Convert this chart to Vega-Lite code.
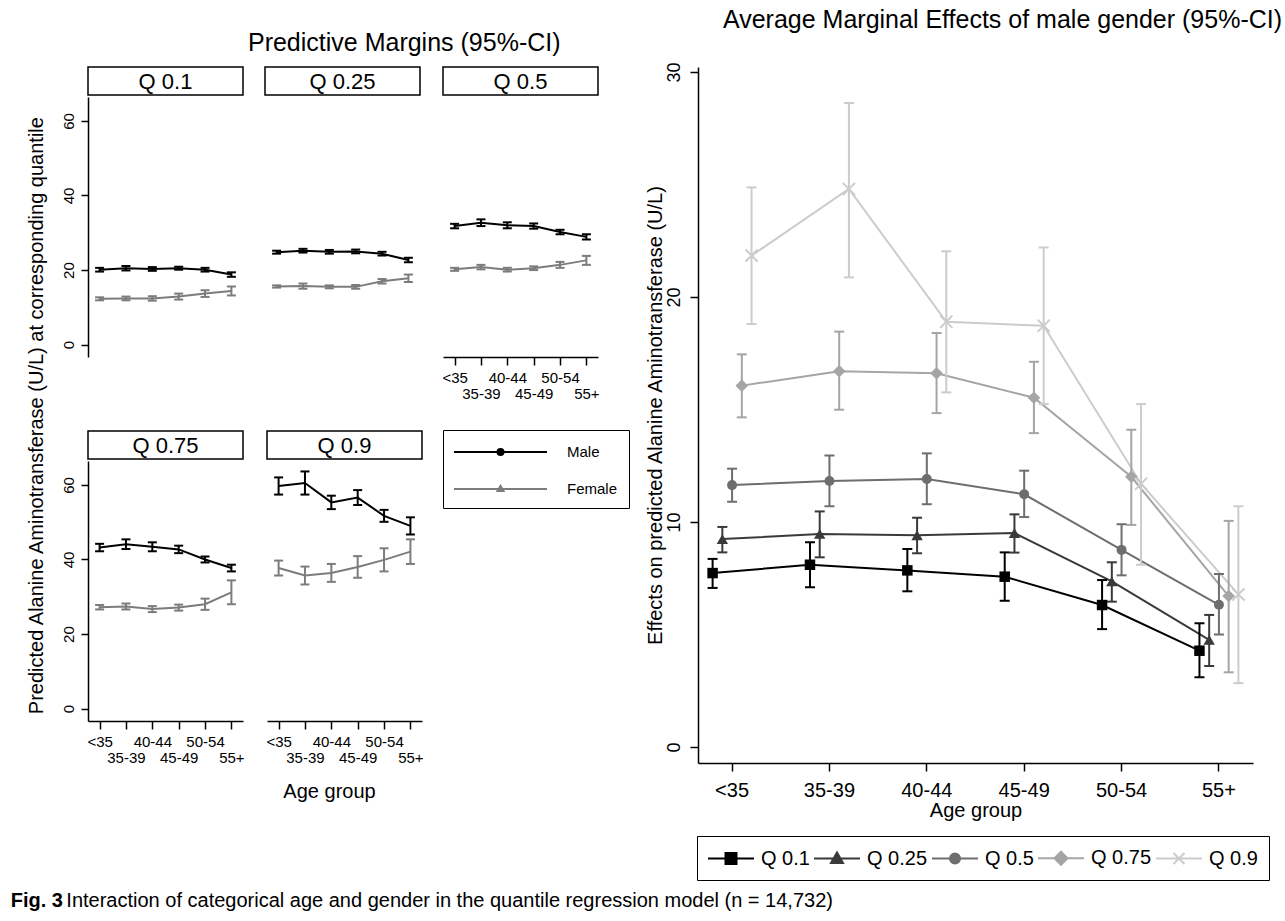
{
  "$schema": "https://vega.github.io/schema/vega-lite/v6.json",
  "background": "white",
  "padding": {"left": 10, "top": 7, "right": 2, "bottom": 5},
  "config": {
    "font": "Liberation Sans",
    "view": {"stroke": null},
    "axis": {"domainColor": "#000", "tickColor": "#000", "labelColor": "#000", "titleColor": "#000", "grid": false, "domainWidth": 1.5, "tickWidth": 1.5, "titleFontWeight": "normal"},
    "title": {"color": "#000", "fontWeight": "normal"},
    "legend": {"labelColor": "#000"}
  },
  "datasets": {
    "pm": [
      {"q": "Q 0.1", "sex": "Male", "age": "<35", "est": 20.1, "lo": 19.6, "hi": 20.6},
      {"q": "Q 0.1", "sex": "Male", "age": "35-39", "est": 20.5, "lo": 19.9, "hi": 21.1},
      {"q": "Q 0.1", "sex": "Male", "age": "40-44", "est": 20.3, "lo": 19.8, "hi": 20.8},
      {"q": "Q 0.1", "sex": "Male", "age": "45-49", "est": 20.5, "lo": 20.1, "hi": 20.9},
      {"q": "Q 0.1", "sex": "Male", "age": "50-54", "est": 20.1, "lo": 19.6, "hi": 20.6},
      {"q": "Q 0.1", "sex": "Male", "age": "55+", "est": 18.8, "lo": 18.2, "hi": 19.4},
      {"q": "Q 0.1", "sex": "Female", "age": "<35", "est": 12.3, "lo": 11.9, "hi": 12.7},
      {"q": "Q 0.1", "sex": "Female", "age": "35-39", "est": 12.4, "lo": 11.9, "hi": 12.9},
      {"q": "Q 0.1", "sex": "Female", "age": "40-44", "est": 12.4, "lo": 11.8, "hi": 13.0},
      {"q": "Q 0.1", "sex": "Female", "age": "45-49", "est": 12.9, "lo": 12.1, "hi": 13.7},
      {"q": "Q 0.1", "sex": "Female", "age": "50-54", "est": 13.7, "lo": 12.8, "hi": 14.6},
      {"q": "Q 0.1", "sex": "Female", "age": "55+", "est": 14.4, "lo": 13.2, "hi": 15.6},
      {"q": "Q 0.25", "sex": "Male", "age": "<35", "est": 24.8, "lo": 24.4, "hi": 25.2},
      {"q": "Q 0.25", "sex": "Male", "age": "35-39", "est": 25.2, "lo": 24.7, "hi": 25.7},
      {"q": "Q 0.25", "sex": "Male", "age": "40-44", "est": 24.9, "lo": 24.4, "hi": 25.4},
      {"q": "Q 0.25", "sex": "Male", "age": "45-49", "est": 25.0, "lo": 24.5, "hi": 25.5},
      {"q": "Q 0.25", "sex": "Male", "age": "50-54", "est": 24.4, "lo": 23.9, "hi": 24.9},
      {"q": "Q 0.25", "sex": "Male", "age": "55+", "est": 22.7, "lo": 22.1, "hi": 23.3},
      {"q": "Q 0.25", "sex": "Female", "age": "<35", "est": 15.6, "lo": 15.3, "hi": 15.9},
      {"q": "Q 0.25", "sex": "Female", "age": "35-39", "est": 15.7, "lo": 15.0, "hi": 16.4},
      {"q": "Q 0.25", "sex": "Female", "age": "40-44", "est": 15.5, "lo": 15.1, "hi": 15.9},
      {"q": "Q 0.25", "sex": "Female", "age": "45-49", "est": 15.5, "lo": 15.0, "hi": 16.0},
      {"q": "Q 0.25", "sex": "Female", "age": "50-54", "est": 17.0, "lo": 16.4, "hi": 17.6},
      {"q": "Q 0.25", "sex": "Female", "age": "55+", "est": 17.8, "lo": 16.8, "hi": 18.8},
      {"q": "Q 0.5", "sex": "Male", "age": "<35", "est": 31.8, "lo": 31.2, "hi": 32.4},
      {"q": "Q 0.5", "sex": "Male", "age": "35-39", "est": 32.7, "lo": 31.8, "hi": 33.6},
      {"q": "Q 0.5", "sex": "Male", "age": "40-44", "est": 32.0, "lo": 31.2, "hi": 32.8},
      {"q": "Q 0.5", "sex": "Male", "age": "45-49", "est": 31.8, "lo": 31.1, "hi": 32.5},
      {"q": "Q 0.5", "sex": "Male", "age": "50-54", "est": 30.2, "lo": 29.6, "hi": 30.8},
      {"q": "Q 0.5", "sex": "Male", "age": "55+", "est": 28.9, "lo": 28.2, "hi": 29.6},
      {"q": "Q 0.5", "sex": "Female", "age": "<35", "est": 20.2, "lo": 19.8, "hi": 20.6},
      {"q": "Q 0.5", "sex": "Female", "age": "35-39", "est": 20.8, "lo": 20.2, "hi": 21.4},
      {"q": "Q 0.5", "sex": "Female", "age": "40-44", "est": 20.1, "lo": 19.6, "hi": 20.6},
      {"q": "Q 0.5", "sex": "Female", "age": "45-49", "est": 20.5, "lo": 20.0, "hi": 21.0},
      {"q": "Q 0.5", "sex": "Female", "age": "50-54", "est": 21.4, "lo": 20.6, "hi": 22.2},
      {"q": "Q 0.5", "sex": "Female", "age": "55+", "est": 22.6, "lo": 21.4, "hi": 23.8},
      {"q": "Q 0.75", "sex": "Male", "age": "<35", "est": 43.2, "lo": 42.2, "hi": 44.2},
      {"q": "Q 0.75", "sex": "Male", "age": "35-39", "est": 44.1, "lo": 42.8, "hi": 45.4},
      {"q": "Q 0.75", "sex": "Male", "age": "40-44", "est": 43.4, "lo": 42.2, "hi": 44.6},
      {"q": "Q 0.75", "sex": "Male", "age": "45-49", "est": 42.7, "lo": 41.7, "hi": 43.7},
      {"q": "Q 0.75", "sex": "Male", "age": "50-54", "est": 40.0, "lo": 39.2, "hi": 40.8},
      {"q": "Q 0.75", "sex": "Male", "age": "55+", "est": 37.7, "lo": 36.8, "hi": 38.6},
      {"q": "Q 0.75", "sex": "Female", "age": "<35", "est": 27.2, "lo": 26.6, "hi": 27.8},
      {"q": "Q 0.75", "sex": "Female", "age": "35-39", "est": 27.4, "lo": 26.6, "hi": 28.2},
      {"q": "Q 0.75", "sex": "Female", "age": "40-44", "est": 26.7, "lo": 25.9, "hi": 27.5},
      {"q": "Q 0.75", "sex": "Female", "age": "45-49", "est": 27.1, "lo": 26.3, "hi": 27.9},
      {"q": "Q 0.75", "sex": "Female", "age": "50-54", "est": 28.0, "lo": 26.5, "hi": 29.5},
      {"q": "Q 0.75", "sex": "Female", "age": "55+", "est": 31.2, "lo": 28.0, "hi": 34.4},
      {"q": "Q 0.9", "sex": "Male", "age": "<35", "est": 59.7, "lo": 57.4, "hi": 62.0},
      {"q": "Q 0.9", "sex": "Male", "age": "35-39", "est": 60.5, "lo": 57.4, "hi": 63.6},
      {"q": "Q 0.9", "sex": "Male", "age": "40-44", "est": 55.3, "lo": 53.5, "hi": 57.1},
      {"q": "Q 0.9", "sex": "Male", "age": "45-49", "est": 56.6, "lo": 54.6, "hi": 58.6},
      {"q": "Q 0.9", "sex": "Male", "age": "50-54", "est": 51.7, "lo": 50.1, "hi": 53.3},
      {"q": "Q 0.9", "sex": "Male", "age": "55+", "est": 49.0, "lo": 46.7, "hi": 51.3},
      {"q": "Q 0.9", "sex": "Female", "age": "<35", "est": 37.7, "lo": 35.7, "hi": 39.7},
      {"q": "Q 0.9", "sex": "Female", "age": "35-39", "est": 35.7, "lo": 33.3, "hi": 38.1},
      {"q": "Q 0.9", "sex": "Female", "age": "40-44", "est": 36.4, "lo": 34.0, "hi": 38.8},
      {"q": "Q 0.9", "sex": "Female", "age": "45-49", "est": 38.0, "lo": 35.1, "hi": 40.9},
      {"q": "Q 0.9", "sex": "Female", "age": "50-54", "est": 39.9, "lo": 36.8, "hi": 43.0},
      {"q": "Q 0.9", "sex": "Female", "age": "55+", "est": 42.1, "lo": 38.8, "hi": 45.4}
    ],
    "ame": [
      {"q": "Q 0.1", "age": "<35", "est": 7.73, "lo": 7.07, "hi": 8.36},
      {"q": "Q 0.1", "age": "35-39", "est": 8.10, "lo": 7.10, "hi": 9.10},
      {"q": "Q 0.1", "age": "40-44", "est": 7.85, "lo": 6.92, "hi": 8.80},
      {"q": "Q 0.1", "age": "45-49", "est": 7.57, "lo": 6.50, "hi": 8.65},
      {"q": "Q 0.1", "age": "50-54", "est": 6.31, "lo": 5.24, "hi": 7.42},
      {"q": "Q 0.1", "age": "55+", "est": 4.28, "lo": 3.10, "hi": 5.50},
      {"q": "Q 0.25", "age": "<35", "est": 9.24, "lo": 8.65, "hi": 9.78},
      {"q": "Q 0.25", "age": "35-39", "est": 9.47, "lo": 8.43, "hi": 10.47},
      {"q": "Q 0.25", "age": "40-44", "est": 9.41, "lo": 8.61, "hi": 10.19},
      {"q": "Q 0.25", "age": "45-49", "est": 9.51, "lo": 8.64, "hi": 10.34},
      {"q": "Q 0.25", "age": "50-54", "est": 7.36, "lo": 6.46, "hi": 8.21},
      {"q": "Q 0.25", "age": "55+", "est": 4.76, "lo": 3.60, "hi": 5.87},
      {"q": "Q 0.5", "age": "<35", "est": 11.64, "lo": 10.90, "hi": 12.37},
      {"q": "Q 0.5", "age": "35-39", "est": 11.82, "lo": 10.70, "hi": 12.95},
      {"q": "Q 0.5", "age": "40-44", "est": 11.91, "lo": 10.79, "hi": 13.05},
      {"q": "Q 0.5", "age": "45-49", "est": 11.23, "lo": 10.22, "hi": 12.28},
      {"q": "Q 0.5", "age": "50-54", "est": 8.76, "lo": 7.63, "hi": 9.90},
      {"q": "Q 0.5", "age": "55+", "est": 6.32, "lo": 5.00, "hi": 7.69},
      {"q": "Q 0.75", "age": "<35", "est": 16.06, "lo": 14.65, "hi": 17.45},
      {"q": "Q 0.75", "age": "35-39", "est": 16.70, "lo": 14.99, "hi": 18.46},
      {"q": "Q 0.75", "age": "40-44", "est": 16.61, "lo": 14.84, "hi": 18.40},
      {"q": "Q 0.75", "age": "45-49", "est": 15.52, "lo": 13.95, "hi": 17.12},
      {"q": "Q 0.75", "age": "50-54", "est": 12.01, "lo": 9.87, "hi": 14.10},
      {"q": "Q 0.75", "age": "55+", "est": 6.71, "lo": 3.32, "hi": 10.05},
      {"q": "Q 0.9", "age": "<35", "est": 21.84, "lo": 18.80, "hi": 24.87},
      {"q": "Q 0.9", "age": "35-39", "est": 24.80, "lo": 20.87, "hi": 28.62},
      {"q": "Q 0.9", "age": "40-44", "est": 18.90, "lo": 15.76, "hi": 22.03},
      {"q": "Q 0.9", "age": "45-49", "est": 18.72, "lo": 15.24, "hi": 22.20},
      {"q": "Q 0.9", "age": "50-54", "est": 11.70, "lo": 8.10, "hi": 15.24},
      {"q": "Q 0.9", "age": "55+", "est": 6.78, "lo": 2.84, "hi": 10.70}
    ]
  },
  "spacing": 9,
  "resolve": {"scale": {"color": "independent", "shape": "independent", "stroke": "independent"}},
  "vconcat": [
    {
      "spacing": 15,
      "resolve": {"scale": {"color": "independent", "shape": "independent", "stroke": "independent"}},
      "hconcat": [
        {
          "title": {"text": "Predictive Margins (95%-CI)", "fontSize": 25, "offset": 10, "anchor": "middle", "frame": "bounds", "dx": 76},
          "resolve": {"scale": {"color": "independent", "shape": "independent", "stroke": "independent"}},
          "vconcat": [
            {
              "title": {"text": "Predicted Alanine Aminotransferase (U/L) at corresponding quantile", "orient": "left", "fontSize": 20, "offset": 14, "anchor": "middle", "frame": "bounds", "dx": 18},
              "spacing": 28,
              "resolve": {"scale": {"color": "independent", "shape": "independent", "stroke": "independent"}},
              "vconcat": [
                {
                  "spacing": 20,
                  "resolve": {"scale": {"color": "independent", "shape": "independent", "stroke": "independent"}},
                  "hconcat": [
                    {
                      "spacing": 2, "bounds": "flush",
                      "resolve": {"scale": {"color": "independent", "shape": "independent", "stroke": "independent"}},
                      "vconcat": [
                        {"width": 155, "height": 28, "data": {"values": [{"label": "Q 0.1"}]}, "mark": {"type": "text", "fontSize": 22, "color": "#000", "baseline": "middle", "dy": 1}, "encoding": {"text": {"field": "label"}}, "view": {"stroke": "#000", "strokeWidth": 1.5, "fill": "#fff"}},
                        {
                          "width": 155, "height": 260,
                          "data": {"name": "pm"},
                          "transform": [{"filter": "datum.q == 'Q 0.1'"}],
                          "encoding": {
                            "x": {"field": "age", "type": "ordinal", "scale": {"type": "point", "domain": ["<35","35-39","40-44","45-49","50-54","55+"], "padding": 0.44}, "axis": null},
                            "color": {"field": "sex", "type": "nominal", "scale": {"domain": ["Male","Female"], "range": ["#000000","#7c7c7c"]}, "legend": null}
                          },
                          "layer": [
                            {"mark": {"type": "line", "strokeWidth": 2}, "encoding": {"y": {"field": "est", "type": "quantitative", "scale": {"domain": [-3.3, 66.4], "nice": false, "zero": false}, "axis": {"title": null, "values": [0,20,40,60], "labelAngle": -90, "labelAlign": "center", "labelBaseline": "alphabetic", "labelFontSize": 15, "tickSize": 7, "labelPadding": 8}}, "order": {"value": null}}},
                            {"mark": {"type": "rule", "strokeWidth": 2}, "encoding": {"y": {"field": "lo", "type": "quantitative", "scale": {"domain": [-3.3, 66.4], "nice": false, "zero": false}, "axis": {"title": null, "values": [0,20,40,60], "labelAngle": -90, "labelAlign": "center", "labelBaseline": "alphabetic", "labelFontSize": 15, "tickSize": 7, "labelPadding": 8}}, "y2": {"field": "hi"}}},
                            {"mark": {"type": "tick", "size": 9, "thickness": 2, "opacity": 1}, "encoding": {"y": {"field": "lo", "type": "quantitative", "scale": {"domain": [-3.3, 66.4], "nice": false, "zero": false}, "axis": {"title": null, "values": [0,20,40,60], "labelAngle": -90, "labelAlign": "center", "labelBaseline": "alphabetic", "labelFontSize": 15, "tickSize": 7, "labelPadding": 8}}}},
                            {"mark": {"type": "tick", "size": 9, "thickness": 2, "opacity": 1}, "encoding": {"y": {"field": "hi", "type": "quantitative", "scale": {"domain": [-3.3, 66.4], "nice": false, "zero": false}, "axis": {"title": null, "values": [0,20,40,60], "labelAngle": -90, "labelAlign": "center", "labelBaseline": "alphabetic", "labelFontSize": 15, "tickSize": 7, "labelPadding": 8}}}}
                          ]
                        }
                      ]
                    },
                    {
                      "spacing": 2, "bounds": "flush",
                      "resolve": {"scale": {"color": "independent", "shape": "independent", "stroke": "independent"}},
                      "vconcat": [
                        {"width": 155, "height": 28, "data": {"values": [{"label": "Q 0.25"}]}, "mark": {"type": "text", "fontSize": 22, "color": "#000", "baseline": "middle", "dy": 1}, "encoding": {"text": {"field": "label"}}, "view": {"stroke": "#000", "strokeWidth": 1.5, "fill": "#fff"}},
                        {
                          "width": 155, "height": 260,
                          "data": {"name": "pm"},
                          "transform": [{"filter": "datum.q == 'Q 0.25'"}],
                          "encoding": {
                            "x": {"field": "age", "type": "ordinal", "scale": {"type": "point", "domain": ["<35","35-39","40-44","45-49","50-54","55+"], "padding": 0.44}, "axis": null},
                            "color": {"field": "sex", "type": "nominal", "scale": {"domain": ["Male","Female"], "range": ["#000000","#7c7c7c"]}, "legend": null}
                          },
                          "layer": [
                            {"mark": {"type": "line", "strokeWidth": 2}, "encoding": {"y": {"field": "est", "type": "quantitative", "scale": {"domain": [-3.3, 66.4], "nice": false, "zero": false}, "axis": null}, "order": {"value": null}}},
                            {"mark": {"type": "rule", "strokeWidth": 2}, "encoding": {"y": {"field": "lo", "type": "quantitative", "scale": {"domain": [-3.3, 66.4], "nice": false, "zero": false}, "axis": null}, "y2": {"field": "hi"}}},
                            {"mark": {"type": "tick", "size": 9, "thickness": 2, "opacity": 1}, "encoding": {"y": {"field": "lo", "type": "quantitative", "scale": {"domain": [-3.3, 66.4], "nice": false, "zero": false}, "axis": null}}},
                            {"mark": {"type": "tick", "size": 9, "thickness": 2, "opacity": 1}, "encoding": {"y": {"field": "hi", "type": "quantitative", "scale": {"domain": [-3.3, 66.4], "nice": false, "zero": false}, "axis": null}}}
                          ]
                        }
                      ]
                    },
                    {
                      "spacing": 2, "bounds": "flush",
                      "resolve": {"scale": {"color": "independent", "shape": "independent", "stroke": "independent"}},
                      "vconcat": [
                        {"width": 155, "height": 28, "data": {"values": [{"label": "Q 0.5"}]}, "mark": {"type": "text", "fontSize": 22, "color": "#000", "baseline": "middle", "dy": 1}, "encoding": {"text": {"field": "label"}}, "view": {"stroke": "#000", "strokeWidth": 1.5, "fill": "#fff"}},
                        {
                          "width": 155, "height": 260,
                          "data": {"name": "pm"},
                          "transform": [{"filter": "datum.q == 'Q 0.5'"}],
                          "encoding": {
                            "x": {"field": "age", "type": "ordinal", "scale": {"type": "point", "domain": ["<35","35-39","40-44","45-49","50-54","55+"], "padding": 0.44}, "axis": {"title": null, "labelAngle": 0, "labelFontSize": 15, "tickSize": 8, "labelPadding": 5, "labelLineHeight": 16, "labelOverlap": false, "labelExpr": "indexof(['35-39','45-49','55+'], datum.value) >= 0 ? ['', datum.value] : datum.value"}},
                            "color": {"field": "sex", "type": "nominal", "scale": {"domain": ["Male","Female"], "range": ["#000000","#7c7c7c"]}, "legend": null}
                          },
                          "layer": [
                            {"mark": {"type": "line", "strokeWidth": 2}, "encoding": {"y": {"field": "est", "type": "quantitative", "scale": {"domain": [-3.3, 66.4], "nice": false, "zero": false}, "axis": null}, "order": {"value": null}}},
                            {"mark": {"type": "rule", "strokeWidth": 2}, "encoding": {"y": {"field": "lo", "type": "quantitative", "scale": {"domain": [-3.3, 66.4], "nice": false, "zero": false}, "axis": null}, "y2": {"field": "hi"}}},
                            {"mark": {"type": "tick", "size": 9, "thickness": 2, "opacity": 1}, "encoding": {"y": {"field": "lo", "type": "quantitative", "scale": {"domain": [-3.3, 66.4], "nice": false, "zero": false}, "axis": null}}},
                            {"mark": {"type": "tick", "size": 9, "thickness": 2, "opacity": 1}, "encoding": {"y": {"field": "hi", "type": "quantitative", "scale": {"domain": [-3.3, 66.4], "nice": false, "zero": false}, "axis": null}}}
                          ]
                        }
                      ]
                    }
                  ]
                },
                {
                  "spacing": 20,
                  "resolve": {"scale": {"color": "independent", "shape": "independent", "stroke": "independent"}},
                  "hconcat": [
                    {
                      "spacing": 2, "bounds": "flush",
                      "resolve": {"scale": {"color": "independent", "shape": "independent", "stroke": "independent"}},
                      "vconcat": [
                        {"width": 155, "height": 28, "data": {"values": [{"label": "Q 0.75"}]}, "mark": {"type": "text", "fontSize": 22, "color": "#000", "baseline": "middle", "dy": 1}, "encoding": {"text": {"field": "label"}}, "view": {"stroke": "#000", "strokeWidth": 1.5, "fill": "#fff"}},
                        {
                          "width": 155, "height": 260,
                          "data": {"name": "pm"},
                          "transform": [{"filter": "datum.q == 'Q 0.75'"}],
                          "encoding": {
                            "x": {"field": "age", "type": "ordinal", "scale": {"type": "point", "domain": ["<35","35-39","40-44","45-49","50-54","55+"], "padding": 0.44}, "axis": {"title": null, "labelAngle": 0, "labelFontSize": 15, "tickSize": 8, "labelPadding": 5, "labelLineHeight": 16, "labelOverlap": false, "labelExpr": "indexof(['35-39','45-49','55+'], datum.value) >= 0 ? ['', datum.value] : datum.value"}},
                            "color": {"field": "sex", "type": "nominal", "scale": {"domain": ["Male","Female"], "range": ["#000000","#7c7c7c"]}, "legend": null}
                          },
                          "layer": [
                            {"mark": {"type": "line", "strokeWidth": 2}, "encoding": {"y": {"field": "est", "type": "quantitative", "scale": {"domain": [-3.3, 66.4], "nice": false, "zero": false}, "axis": {"title": null, "values": [0,20,40,60], "labelAngle": -90, "labelAlign": "center", "labelBaseline": "alphabetic", "labelFontSize": 15, "tickSize": 7, "labelPadding": 8}}, "order": {"value": null}}},
                            {"mark": {"type": "rule", "strokeWidth": 2}, "encoding": {"y": {"field": "lo", "type": "quantitative", "scale": {"domain": [-3.3, 66.4], "nice": false, "zero": false}, "axis": {"title": null, "values": [0,20,40,60], "labelAngle": -90, "labelAlign": "center", "labelBaseline": "alphabetic", "labelFontSize": 15, "tickSize": 7, "labelPadding": 8}}, "y2": {"field": "hi"}}},
                            {"mark": {"type": "tick", "size": 9, "thickness": 2, "opacity": 1}, "encoding": {"y": {"field": "lo", "type": "quantitative", "scale": {"domain": [-3.3, 66.4], "nice": false, "zero": false}, "axis": {"title": null, "values": [0,20,40,60], "labelAngle": -90, "labelAlign": "center", "labelBaseline": "alphabetic", "labelFontSize": 15, "tickSize": 7, "labelPadding": 8}}}},
                            {"mark": {"type": "tick", "size": 9, "thickness": 2, "opacity": 1}, "encoding": {"y": {"field": "hi", "type": "quantitative", "scale": {"domain": [-3.3, 66.4], "nice": false, "zero": false}, "axis": {"title": null, "values": [0,20,40,60], "labelAngle": -90, "labelAlign": "center", "labelBaseline": "alphabetic", "labelFontSize": 15, "tickSize": 7, "labelPadding": 8}}}}
                          ]
                        }
                      ]
                    },
                    {
                      "spacing": 2, "bounds": "flush",
                      "resolve": {"scale": {"color": "independent", "shape": "independent", "stroke": "independent"}},
                      "vconcat": [
                        {"width": 155, "height": 28, "data": {"values": [{"label": "Q 0.9"}]}, "mark": {"type": "text", "fontSize": 22, "color": "#000", "baseline": "middle", "dy": 1}, "encoding": {"text": {"field": "label"}}, "view": {"stroke": "#000", "strokeWidth": 1.5, "fill": "#fff"}},
                        {
                          "width": 155, "height": 260,
                          "data": {"name": "pm"},
                          "transform": [{"filter": "datum.q == 'Q 0.9'"}],
                          "encoding": {
                            "x": {"field": "age", "type": "ordinal", "scale": {"type": "point", "domain": ["<35","35-39","40-44","45-49","50-54","55+"], "padding": 0.44}, "axis": {"title": "Age group", "titleFontSize": 20, "titlePadding": 16, "titleX": 62, "labelAngle": 0, "labelFontSize": 15, "tickSize": 8, "labelPadding": 5, "labelLineHeight": 16, "labelOverlap": false, "labelExpr": "indexof(['35-39','45-49','55+'], datum.value) >= 0 ? ['', datum.value] : datum.value"}},
                            "color": {"field": "sex", "type": "nominal", "scale": {"domain": ["Male","Female"], "range": ["#000000","#7c7c7c"]}, "legend": null}
                          },
                          "layer": [
                            {
                              "transform": [{"filter": "false"}],
                              "mark": {"type": "point", "filled": true, "opacity": 1, "strokeWidth": 2},
                              "encoding": {
                                "color": {"field": "sex", "type": "nominal", "scale": {"domain": ["Male","Female"], "range": ["#000000","#7c7c7c"]}, "legend": {"orient": "none", "legendX": 176, "legendY": -31, "title": null, "direction": "vertical", "strokeColor": "#000", "fillColor": "#fff", "padding": 11, "symbolSize": 400, "symbolOffset": 35.5, "symbolStrokeWidth": 2, "symbolOpacity": 1, "labelOffset": 55.5, "labelFontSize": 15, "rowPadding": 18}},
                                "shape": {"field": "sex", "type": "nominal", "scale": {"domain": ["Male","Female"], "range": ["M-4.65,0H4.65M-0.3,0A0.3,0.3 0 1,0 0.3,0A0.3,0.3 0 1,0 -0.3,0Z", "M-4.65,0H4.65M0,-0.3L0.3,0.2H-0.3Z"]}, "legend": {"orient": "none", "legendX": 176, "legendY": -31, "title": null, "direction": "vertical", "strokeColor": "#000", "fillColor": "#fff", "padding": 11, "symbolSize": 400, "symbolOffset": 35.5, "symbolStrokeWidth": 2, "symbolOpacity": 1, "labelOffset": 55.5, "labelFontSize": 15, "rowPadding": 18}},
                                "stroke": {"field": "sex", "type": "nominal", "scale": {"domain": ["Male","Female"], "range": ["#000000","#7c7c7c"]}, "legend": {"orient": "none", "legendX": 176, "legendY": -31, "title": null, "direction": "vertical", "strokeColor": "#000", "fillColor": "#fff", "padding": 11, "symbolSize": 400, "symbolOffset": 35.5, "symbolStrokeWidth": 2, "symbolOpacity": 1, "labelOffset": 55.5, "labelFontSize": 15, "rowPadding": 18}}
                              }
                            },
                            {"mark": {"type": "line", "strokeWidth": 2}, "encoding": {"y": {"field": "est", "type": "quantitative", "scale": {"domain": [-3.3, 66.4], "nice": false, "zero": false}, "axis": null}, "order": {"value": null}}},
                            {"mark": {"type": "rule", "strokeWidth": 2}, "encoding": {"y": {"field": "lo", "type": "quantitative", "scale": {"domain": [-3.3, 66.4], "nice": false, "zero": false}, "axis": null}, "y2": {"field": "hi"}}},
                            {"mark": {"type": "tick", "size": 9, "thickness": 2, "opacity": 1}, "encoding": {"y": {"field": "lo", "type": "quantitative", "scale": {"domain": [-3.3, 66.4], "nice": false, "zero": false}, "axis": null}}},
                            {"mark": {"type": "tick", "size": 9, "thickness": 2, "opacity": 1}, "encoding": {"y": {"field": "hi", "type": "quantitative", "scale": {"domain": [-3.3, 66.4], "nice": false, "zero": false}, "axis": null}}}
                          ]
                        }
                      ]
                    }
                  ]
                }
              ]
            }
          ]
        },
        {
          "title": {"text": "Average Marginal Effects of male gender (95%-CI)", "fontSize": 25, "offset": 29, "anchor": "middle", "frame": "group", "dx": 27},
          "width": 555, "height": 696,
          "data": {"name": "ame"},
          "encoding": {
            "x": {"field": "age", "type": "nominal", "scale": {"type": "band", "domain": ["<35","35-39","40-44","45-49","50-54","55+"], "paddingInner": 0.5, "paddingOuter": 0.1}, "axis": {"title": "Age group", "titleFontSize": 20, "titlePadding": 0, "labelAngle": 0, "labelFontSize": 20, "tickSize": 8, "labelPadding": 9}},
            "xOffset": {"field": "q", "type": "nominal", "scale": {"domain": ["Q 0.1","Q 0.25","Q 0.5","Q 0.75","Q 0.9"], "paddingInner": 0, "paddingOuter": 0}},
            "color": {"field": "q", "type": "nominal", "scale": {"domain": ["Q 0.1","Q 0.25","Q 0.5","Q 0.75","Q 0.9"], "range": ["#000000","#3a3a3a","#6e6e6e","#a5a5a5","#cccccc"]}, "legend": null}
          },
          "layer": [
            {
              "transform": [{"filter": "false"}],
              "mark": {"type": "point", "filled": true, "opacity": 1, "strokeWidth": 2},
              "encoding": {
                "color": {"field": "q", "type": "nominal", "scale": {"domain": ["Q 0.1","Q 0.25","Q 0.5","Q 0.75","Q 0.9"], "range": ["#000000","#3a3a3a","#6e6e6e","#a5a5a5","#cccccc"]}, "legend": {"orient": "none", "legendX": -1, "legendY": 769, "direction": "horizontal", "title": null, "strokeColor": "#000", "fillColor": "#fff", "padding": 11, "symbolSize": 400, "symbolOffset": 12, "symbolStrokeWidth": 2, "symbolOpacity": 1, "labelFontSize": 20, "labelOffset": 19, "columnPadding": 0}},
                "shape": {"field": "q", "type": "nominal", "scale": {"domain": ["Q 0.1","Q 0.25","Q 0.5","Q 0.75","Q 0.9"], "range": ["M-2.3,0H2.3M-0.55,-0.55H0.55V0.55H-0.55Z", "M-2.3,0H2.3M0,-0.6L0.6,0.45H-0.6Z", "M-2.3,0H2.3M-0.5,0A0.5,0.5 0 1,0 0.5,0A0.5,0.5 0 1,0 -0.5,0Z", "M-2.3,0H2.3M0,-0.65L0.65,0L0,0.65L-0.65,0Z", "M-2.3,0H2.3M-0.55,-0.55L0.55,0.55M-0.55,0.55L0.55,-0.55"]}, "legend": {"orient": "none", "legendX": -1, "legendY": 769, "direction": "horizontal", "title": null, "strokeColor": "#000", "fillColor": "#fff", "padding": 11, "symbolSize": 400, "symbolOffset": 12, "symbolStrokeWidth": 2, "symbolOpacity": 1, "labelFontSize": 20, "labelOffset": 19, "columnPadding": 0}},
                "stroke": {"field": "q", "type": "nominal", "scale": {"domain": ["Q 0.1","Q 0.25","Q 0.5","Q 0.75","Q 0.9"], "range": ["#000000","#3a3a3a","#6e6e6e","#a5a5a5","#cccccc"]}, "legend": {"orient": "none", "legendX": -1, "legendY": 769, "direction": "horizontal", "title": null, "strokeColor": "#000", "fillColor": "#fff", "padding": 11, "symbolSize": 400, "symbolOffset": 12, "symbolStrokeWidth": 2, "symbolOpacity": 1, "labelFontSize": 20, "labelOffset": 19, "columnPadding": 0}}
              }
            },
            {"mark": {"type": "line", "strokeWidth": 2}, "encoding": {"y": {"field": "est", "type": "quantitative", "scale": {"domain": [-0.71, 30.22], "nice": false, "zero": false}, "axis": {"title": "Effects on predicted Alanine Aminotransferase (U/L)", "titleFontSize": 20, "titlePadding": 0, "values": [0,10,20,30], "labelAngle": -90, "labelAlign": "center", "labelBaseline": "bottom", "labelFontSize": 18, "tickSize": 8, "labelPadding": 7}}, "order": {"value": null}}},
            {"mark": {"type": "rule", "strokeWidth": 2}, "encoding": {"y": {"field": "lo", "type": "quantitative", "scale": {"domain": [-0.71, 30.22], "nice": false, "zero": false}, "axis": {"title": "Effects on predicted Alanine Aminotransferase (U/L)", "titleFontSize": 20, "titlePadding": 0, "values": [0,10,20,30], "labelAngle": -90, "labelAlign": "center", "labelBaseline": "bottom", "labelFontSize": 18, "tickSize": 8, "labelPadding": 7}}, "y2": {"field": "hi"}}},
            {"mark": {"type": "tick", "size": 10, "thickness": 2, "opacity": 1}, "encoding": {"y": {"field": "lo", "type": "quantitative", "scale": {"domain": [-0.71, 30.22], "nice": false, "zero": false}, "axis": {"title": "Effects on predicted Alanine Aminotransferase (U/L)", "titleFontSize": 20, "titlePadding": 0, "values": [0,10,20,30], "labelAngle": -90, "labelAlign": "center", "labelBaseline": "bottom", "labelFontSize": 18, "tickSize": 8, "labelPadding": 7}}}},
            {"mark": {"type": "tick", "size": 10, "thickness": 2, "opacity": 1}, "encoding": {"y": {"field": "hi", "type": "quantitative", "scale": {"domain": [-0.71, 30.22], "nice": false, "zero": false}, "axis": {"title": "Effects on predicted Alanine Aminotransferase (U/L)", "titleFontSize": 20, "titlePadding": 0, "values": [0,10,20,30], "labelAngle": -90, "labelAlign": "center", "labelBaseline": "bottom", "labelFontSize": 18, "tickSize": 8, "labelPadding": 7}}}},
            {"transform": [{"filter": "datum.q == 'Q 0.1'"}], "mark": {"type": "point", "shape": "square", "filled": true, "size": 110, "opacity": 1}, "encoding": {"y": {"field": "est", "type": "quantitative", "scale": {"domain": [-0.71, 30.22], "nice": false, "zero": false}}}},
            {"transform": [{"filter": "datum.q == 'Q 0.25'"}], "mark": {"type": "point", "shape": "triangle-up", "filled": true, "size": 130, "opacity": 1}, "encoding": {"y": {"field": "est", "type": "quantitative", "scale": {"domain": [-0.71, 30.22], "nice": false, "zero": false}}}},
            {"transform": [{"filter": "datum.q == 'Q 0.5'"}], "mark": {"type": "point", "shape": "circle", "filled": true, "size": 100, "opacity": 1}, "encoding": {"y": {"field": "est", "type": "quantitative", "scale": {"domain": [-0.71, 30.22], "nice": false, "zero": false}}}},
            {"transform": [{"filter": "datum.q == 'Q 0.75'"}], "mark": {"type": "point", "shape": "diamond", "filled": true, "size": 160, "opacity": 1}, "encoding": {"y": {"field": "est", "type": "quantitative", "scale": {"domain": [-0.71, 30.22], "nice": false, "zero": false}}}},
            {"transform": [{"filter": "datum.q == 'Q 0.9'"}], "mark": {"type": "point", "shape": "M-1,-1L1,1M-1,1L1,-1", "filled": false, "size": 150, "strokeWidth": 2, "opacity": 1}, "encoding": {"y": {"field": "est", "type": "quantitative", "scale": {"domain": [-0.71, 30.22], "nice": false, "zero": false}}}}
          ]
        }
      ]
    },
    {
      "width": 1, "height": 1,
      "data": {"values": [{}]},
      "mark": {"type": "point", "opacity": 0},
      "encoding": {},
      "title": {
        "text": "Fig. 3",
        "subtitle": "\u200b\u00a0\u00a0\u00a0\u00a0\u00a0\u00a0\u00a0\u00a0\u00a0\u00a0Interaction of categorical age and gender in the quantile regression model (n = 14,732)",
        "anchor": "start", "fontWeight": "bold", "fontSize": 20, "offset": 0, "dx": -75,
        "subtitleFontSize": 20, "subtitleFontWeight": "normal", "subtitleColor": "#000", "subtitleFont": "Liberation Sans", "subtitlePadding": -20
      }
    }
  ]
}
